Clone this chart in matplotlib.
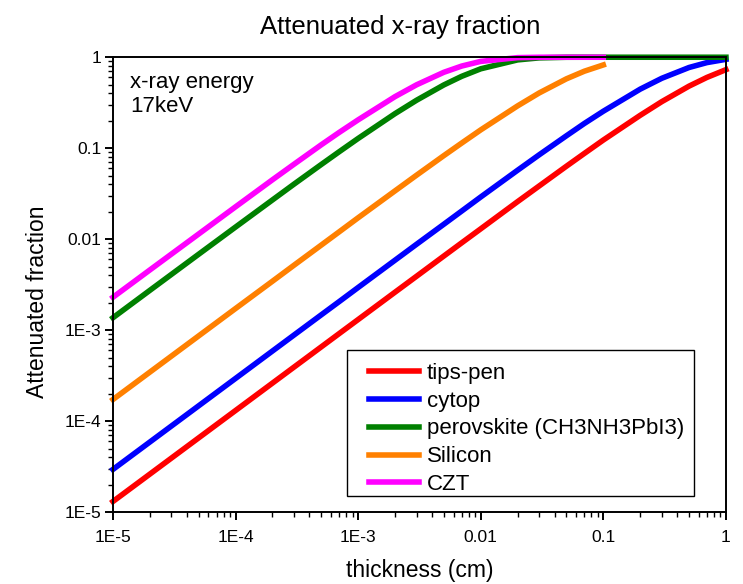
import matplotlib.pyplot as plt
from matplotlib.patches import Rectangle
import numpy as np

plt.rcParams['font.family'] = ['Liberation Sans', 'DejaVu Sans']

# thickness grid (cm)
thick = [1e-5, 2e-5, 5e-5, 1e-4, 2e-4, 3e-4, 5e-4, 7e-4, 1e-3, 2e-3, 3e-3, 5e-3,
         7e-3, 1e-2, 2e-2, 3e-2, 5e-2, 7e-2, 0.1, 0.2, 0.3, 0.5, 0.7, 1.0]
thick_short = thick[:19]  # Silicon and CZT stop at 0.1 cm

tips_pen = [1.31e-5, 2.62e-5, 6.55e-5, 1.31e-4, 2.62e-4, 3.93e-4, 6.55e-4, 9.17e-4,
            1.309e-3, 2.617e-3, 3.92e-3, 6.53e-3, 9.13e-3, 0.0130, 0.0259, 0.0385,
            0.0634, 0.0876, 0.123, 0.230, 0.325, 0.481, 0.600, 0.730]
cytop = [2.95e-5, 5.9e-5, 1.475e-4, 2.95e-4, 5.9e-4, 8.85e-4, 1.474e-3, 2.06e-3,
         2.946e-3, 5.88e-3, 8.81e-3, 0.0146, 0.0204, 0.0291, 0.0573, 0.0847,
         0.137, 0.187, 0.255, 0.446, 0.587, 0.771, 0.873, 0.948]
perovskite = [1.37e-3, 2.74e-3, 6.83e-3, 0.0136, 0.0270, 0.0403, 0.0662, 0.0914,
              0.128, 0.240, 0.337, 0.496, 0.617, 0.746, 0.935, 0.984,
              0.999, 1.0, 1.0, 1.0, 1.0, 1.0, 1.0, 1.0]
silicon = [1.73e-4, 3.46e-4, 8.65e-4, 1.73e-3, 3.45e-3, 5.18e-3, 8.61e-3, 0.01204,
           0.0172, 0.0340, 0.0506, 0.0829, 0.114, 0.159, 0.292, 0.405,
           0.579, 0.702, 0.823]
czt = [2.3e-3, 4.59e-3, 0.0114, 0.0227, 0.0450, 0.0667, 0.109, 0.149,
       0.205, 0.369, 0.498, 0.683, 0.800, 0.900, 0.990, 0.999,
       1.0, 1.0, 1.0]

tick_vals = [1e-5, 1e-4, 1e-3, 1e-2, 0.1, 1]
tick_labels = ['1E-5', '1E-4', '1E-3', '0.01', '0.1', '1']

fig = plt.figure(figsize=(7.43, 5.84), dpi=100)
ax = fig.add_axes([0.152, 0.123, 0.825, 0.779])

lw = 4.0
ax.plot(thick, tips_pen, color='#ff0000', lw=lw, label='tips-pen', clip_on=False)
ax.plot(thick, cytop, color='#0000ff', lw=lw, label='cytop', clip_on=False)
ax.plot(thick, perovskite, color='#008000', lw=lw, label='perovskite (CH3NH3PbI3)', clip_on=False)
ax.plot(thick_short, silicon, color='#ff8000', lw=lw, label='Silicon', clip_on=False)
ax.plot(thick_short, czt, color='#ff00ff', lw=lw, label='CZT', clip_on=False)

ax.set_xscale('log')
ax.set_yscale('log')
ax.set_xlim(1e-5, 1)
ax.set_ylim(1e-5, 1)
ax.set_xticks(tick_vals)
ax.set_xticklabels(tick_labels)
ax.set_yticks(tick_vals)
ax.set_yticklabels(tick_labels)

for s in ax.spines.values():
    s.set_linewidth(1.4)
ax.tick_params(which='major', direction='out', length=6, width=1.4, labelsize=12.5)
ax.tick_params(which='minor', direction='out', length=3.5, width=1.0)
ax.tick_params(top=False, right=False, which='both')
ax.tick_params(axis='x', pad=6.5)
ax.tick_params(axis='y', pad=2.5)

fig.text(0.538, 1 - 27 / 584, 'Attenuated x-ray fraction', fontsize=18.5,
         ha='center', va='center')
ax.set_xlabel('thickness (cm)', fontsize=16.5)
ax.set_ylabel('Attenuated fraction', fontsize=16.5)
ax.xaxis.set_label_coords(0.5, -(570 - 512) / 455)
ax.xaxis.label.set_va('center')
ax.yaxis.set_label_coords(-(113 - 38) / 613, (512 - 302) / 455)
ax.yaxis.label.set_va('center')

ax.text(0.028, 0.968, 'x-ray energy\n17keV', transform=ax.transAxes,
        fontsize=16, va='top', ha='left', linespacing=1.2)

# legend box drawn separately so the padding matches the reference
ax.add_patch(Rectangle((0.3817, 0.0352), 0.566, 0.321, transform=ax.transAxes,
                       facecolor='white', edgecolor='black', lw=1.0, zorder=4))
leg = ax.legend(loc='upper left', bbox_to_anchor=(0.4176, 0.3286),
                fontsize=16, frameon=False, handlelength=2.25,
                handletextpad=0.35, borderpad=0, labelspacing=0.31,
                borderaxespad=0)
leg.set_zorder(5)

plt.savefig('out.png', dpi=100)
